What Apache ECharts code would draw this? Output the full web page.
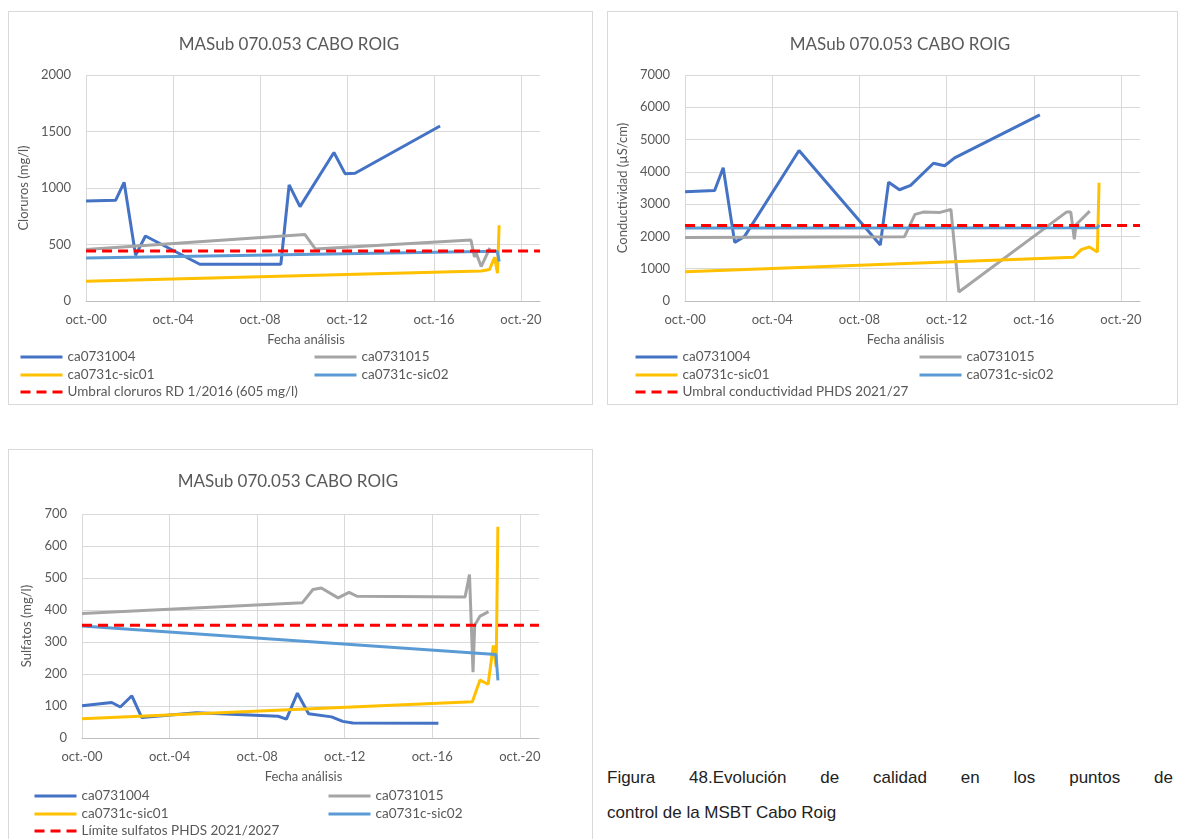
<!DOCTYPE html>
<html>
<head>
<meta charset="utf-8">
<script src="https://cdn.jsdelivr.net/npm/echarts@6/dist/echarts.min.js"></script>
<style>
  html, body { margin: 0; padding: 0; width: 1180px; height: 839px; overflow: hidden; background: #fff; }
  .chart { position: absolute; border: 1px solid #d9d9d9; box-sizing: border-box; background: #fff; }
  #c1 { left: 8px; top: 11px; width: 585px; height: 394px; }
  #c2 { left: 607px; top: 11px; width: 571px; height: 394px; }
  #c3 { left: 8px; top: 449px; width: 585px; height: 402px; }
  #caption { position: absolute; left: 607px; top: 760px; width: 566px; font-family: 'Liberation Sans', Arial, sans-serif; font-size: 17px; line-height: 35px; color: #222; }
  #caption .l1 { text-align: justify; text-align-last: justify; }
</style>
</head>
<body>
<div id="c1" class="chart"></div>
<div id="c2" class="chart"></div>
<div id="c3" class="chart"></div>
<div id="caption">
  <div class="l1">Figura 48.Evolución de calidad en los puntos de</div>
  <div>control de la MSBT Cabo Roig</div>
</div>
<script>
// sample dates per station (yyyy-mm-dd)
const dates004 = ['2000-10-01', '2002-02-10', '2002-07-01', '2003-01-11', '2003-06-24', '2005-12-24', '2009-09-16',
  '2010-02-03', '2010-08-03', '2011-02-07', '2012-02-25', '2012-08-29', '2013-02-14', '2017-01-12'];
const dates015 = ['2000-10-01', '2010-10-26', '2011-04-19', '2011-09-06', '2012-06-13', '2012-12-13', '2013-04-23',
  '2018-04-01', '2018-06-13', '2018-08-11', '2018-09-09', '2018-12-02', '2019-04-26'];
const datesSic01 = ['2000-10-01', '2018-07-30', '2018-12-06', '2019-04-19', '2019-07-15', '2019-09-02', '2019-09-30'];
const datesSic02 = ['2000-10-01', '2019-08-28', '2019-10-01'];

// cloruros (mg/l)
const cl004 = [885, 891, 1050, 404, 575, 325, 325, 1027, 835, null, 1314, 1127, 1130, 1549];
const cl015 = [455, 588, 460, null, null, null, null, null, 540, 389, 425, 305, 469];
const clSic01 = [174, null, 265, 278, 387, 245, 670];
const clSic02 = [381, 440, 350];
const clLimit = 443;

// conductividad (uS/cm)
const ec004 = [3384, 3424, 4126, 1816, 2001, 4661, 1733, 3681, 3446, 3579, 4268, 4188, 4435, 5765];
const ec015 = [1970, 1991, 2682, 2753, 2744, 2836, 280, 2753, 2753, 1908, 2363, null, 2784];
const ecSic01 = [909, 1355, 1590, 1671, null, 1520, 3662];
const ecSic02 = [2260, 2265, 2360];
const ecLimit = 2340;

// sulfatos (mg/l)
const so004 = [101, 111, 97, 132, 64, 79, 68, 59, 140, 76, 66, 52, 47, 46];
const so015 = [389, 423, 464, 469, 438, 455, 443, 441, 511, 206, 352, 380, 395];
const soSic01 = [60, 113, 181, 168, 289, 222, 660];
const soSic02 = [350, 261, 180];
const soLimit = 352;

const xTicks = [0, 48, 96, 144, 192, 240]; // months from oct-00
const X_MAX = 250.5;

const names = ['ca0731004', 'ca0731015', 'ca0731c-sic01', 'ca0731c-sic02'];
const colors = ['#4472C4', '#A5A5A5', '#FFC000', '#5B9BD5'];
const stationDates = [dates004, dates015, datesSic01, datesSic02];

const FONT = 'Lato';
const TXT = '#595959';

function toMonths(s) {
  const [y, m, d] = s.split('-').map(Number);
  return (y - 2000) * 12 + (m - 10) + (d - 1) / 30.4;
}

function makeChart(id, cfg) {
  const chart = echarts.init(document.getElementById(id));
  const series = names.map((name, i) => ({
    name: name,
    type: 'line',
    symbol: 'none',
    connectNulls: true,
    lineStyle: { color: colors[i], width: 3 },
    itemStyle: { color: colors[i] },
    data: stationDates[i].map((d, k) => [toMonths(d), cfg.values[i][k]])
  }));
  series.push({
    name: cfg.limitName,
    type: 'line',
    symbol: 'none',
    lineStyle: { color: '#FF0000', width: 3, type: [10, 6] },
    itemStyle: { color: '#FF0000' },
    data: [[0, cfg.limit], [X_MAX, cfg.limit]]
  });

  const L = cfg.legend;
  const legendItems = [
    { data: [names[0]], left: L.c1, top: L.r1 },
    { data: [names[1]], left: L.c2, top: L.r1 },
    { data: [names[2]], left: L.c1, top: L.r2 },
    { data: [names[3]], left: L.c2, top: L.r2 },
    { data: [cfg.limitName], left: L.c1, top: L.r3 }
  ].map(l => Object.assign({
    itemWidth: 42, itemHeight: 12, padding: 0, selectedMode: false,
    itemStyle: { opacity: 0 },
    lineStyle: { width: 3 },
    textStyle: { color: TXT, fontFamily: FONT, fontSize: 13.5 }
  }, l));

  chart.setOption({
    animation: false,
    title: {
      text: 'MASub 070.053 CABO ROIG',
      left: cfg.titleX, top: cfg.titleTop, textAlign: 'center', padding: 0,
      textStyle: { color: TXT, fontFamily: FONT, fontSize: 17, fontWeight: 'normal' }
    },
    grid: cfg.grid,
    legend: legendItems,
    xAxis: {
      type: 'value',
      min: 0,
      max: X_MAX,
      interval: 48,
      name: 'Fecha análisis',
      nameLocation: 'middle',
      nameGap: 32,
      nameTextStyle: { color: TXT, fontFamily: FONT, fontSize: 13, padding: [0, 14, 0, 0] },
      axisLine: { show: true, lineStyle: { color: '#bfbfbf', width: 1 } },
      axisTick: { show: false, customValues: xTicks },
      splitLine: { show: true, lineStyle: { color: '#d9d9d9', width: 1 } },
      axisLabel: {
        customValues: xTicks,
        margin: 12,
        color: TXT, fontFamily: FONT, fontSize: 13,
        formatter: v => 'oct.-' + String(Math.round(2000 + v / 12) % 100).padStart(2, '0')
      }
    },
    yAxis: {
      type: 'value',
      min: 0,
      max: cfg.yMax,
      interval: cfg.yInterval,
      name: cfg.yName,
      nameLocation: 'middle',
      nameGap: cfg.yNameGap,
      nameTextStyle: { color: TXT, fontFamily: FONT, fontSize: 13 },
      axisLine: { show: false },
      axisTick: { show: false },
      splitLine: { show: true, lineStyle: { color: '#d9d9d9', width: 1 } },
      axisLabel: { margin: 15, color: TXT, fontFamily: FONT, fontSize: 13, formatter: v => String(v) }
    },
    series: series
  });
  return chart;
}

makeChart('c1', {
  values: [cl004, cl015, clSic01, clSic02],
  limit: clLimit,
  limitName: 'Umbral cloruros RD 1/2016 (605 mg/l)',
  yName: 'Cloruros (mg/l)', yMax: 2000, yInterval: 500, yNameGap: 49,
  titleX: 280, titleTop: 24,
  grid: { left: 73, right: 52, top: 63, bottom: 103 },
  legend: { c1: 10, c2: 304, r1: 338, r2: 356, r3: 373 }
});

makeChart('c2', {
  values: [ec004, ec015, ecSic01, ecSic02],
  limit: ecLimit,
  limitName: 'Umbral conductividad PHDS 2021/27',
  yName: 'Conductividad (µS/cm)', yMax: 7000, yInterval: 1000, yNameGap: 49,
  titleX: 292, titleTop: 24,
  grid: { left: 75, right: 37, top: 63, bottom: 103 },
  legend: { c1: 26, c2: 310, r1: 338, r2: 356, r3: 373 }
});

makeChart('c3', {
  values: [so004, so015, soSic01, soSic02],
  limit: soLimit,
  limitName: 'Límite sulfatos PHDS 2021/2027',
  yName: 'Sulfatos (mg/l)', yMax: 700, yInterval: 100, yNameGap: 49,
  titleX: 279, titleTop: 23,
  grid: { left: 73, right: 53, top: 64, bottom: 112 },
  legend: { c1: 24, c2: 318, r1: 339, r2: 357, r3: 374 }
});
</script>
</body>
</html>
